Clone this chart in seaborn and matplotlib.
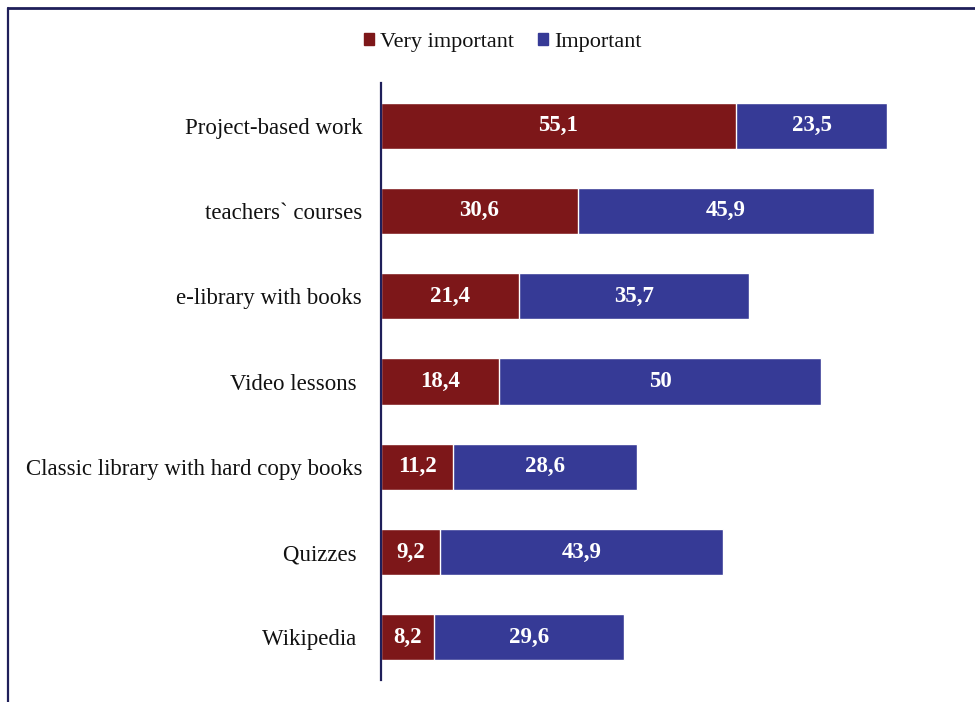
import pandas as pd
import matplotlib.pyplot as plt
import seaborn as sns
from matplotlib.lines import Line2D
from matplotlib.patches import Patch

categories = ['Project-based work', 'teachers` courses', 'e-library with books',
              'Video lessons ', 'Classic library with hard copy books', 'Quizzes ', 'Wikipedia ']
very_important = [55.1, 30.6, 21.4, 18.4, 11.2, 9.2, 8.2]
important = [23.5, 45.9, 35.7, 50, 28.6, 43.9, 29.6]

RED = '#7D1719'
BLUE = '#363A96'

df = pd.DataFrame({'category': categories,
                   'very': very_important,
                   'imp': important})
df['total'] = df['very'] + df['imp']

sns.set_style('white')
plt.rcParams['font.family'] = ['Liberation Serif', 'DejaVu Serif']

fig = plt.figure(figsize=(9.75, 7.02), dpi=100)
ax = fig.add_axes([381 / 975, 1 - 680 / 702, 579.6 / 975, (680 - 83) / 702])

# stacked: draw totals in blue, then the first segment in red on top
sns.barplot(data=df, x='total', y='category', color=BLUE, width=0.54,
            saturation=1, ax=ax, orient='h')
sns.barplot(data=df, x='very', y='category', color=RED, width=0.54,
            saturation=1, ax=ax, orient='h')

for i, row in df.iterrows():
    ax.text(row['very'] / 2, i, f"{row['very']:g}".replace('.', ','),
            color='white', fontweight='bold', fontsize=16.5, ha='center', va='center')
    ax.text(row['very'] + row['imp'] / 2, i, f"{row['imp']:g}".replace('.', ','),
            color='white', fontweight='bold', fontsize=16.5, ha='center', va='center')

ax.set_xlim(0, 90)
ax.set_ylim(6.5, -0.5)
ax.set_xlabel('')
ax.set_ylabel('')
ax.set_xticks([])
ax.tick_params(axis='y', length=0, pad=13.5, labelsize=16.5, labelcolor='#111111')
for s in ['top', 'right', 'bottom']:
    ax.spines[s].set_visible(False)
ax.spines['left'].set_color('#1F1F5A')
ax.spines['left'].set_linewidth(1.6)

handles = [Patch(color=RED, label='Very important'), Patch(color=BLUE, label='Important')]
fig.legend(handles=handles, loc='center', bbox_to_anchor=(503 / 975, 1 - 42 / 702),
           ncol=2, frameon=False, fontsize=16, handlelength=0.45, handleheight=0.45,
           handletextpad=0.25, columnspacing=1.1, labelcolor='#111111')

# outer frame (cut off at right and bottom)
fig.add_artist(Line2D([8 / 975, 1], [1 - 8 / 702, 1 - 8 / 702], color='#1F1F5A', lw=2.0))
fig.add_artist(Line2D([8 / 975, 8 / 975], [0, 1 - 8 / 702], color='#1F1F5A', lw=1.6))

fig.savefig('out.png', dpi=100)
